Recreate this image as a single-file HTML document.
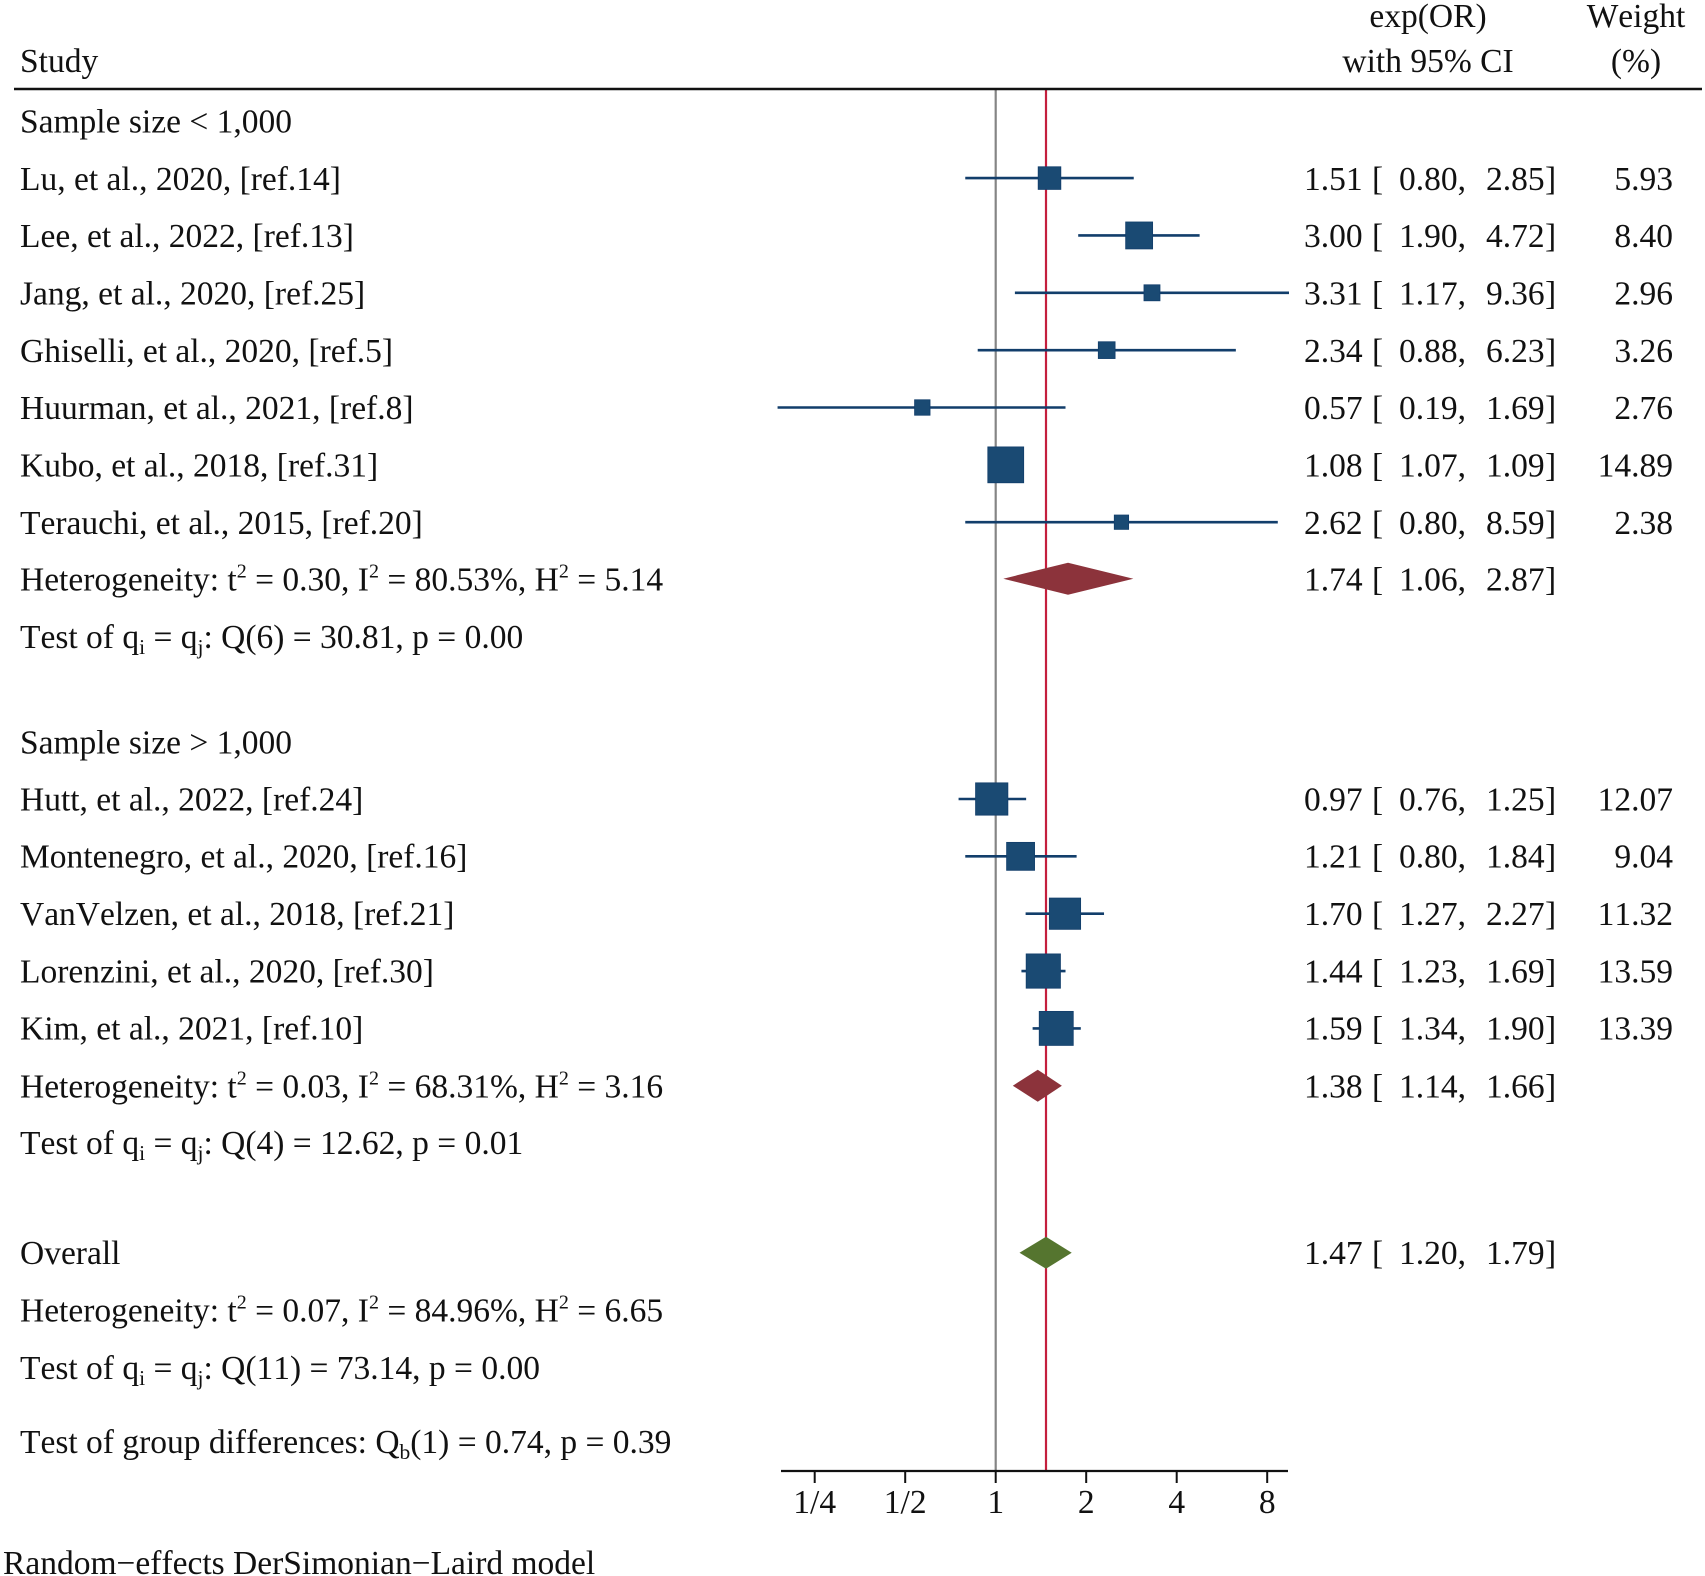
<!DOCTYPE html>
<html lang="en">
<head>
<meta charset="utf-8">
<title>Forest plot</title>
<style>
html,body{margin:0;padding:0;background:#fff;}
svg{display:block;}
text{font-family:"Liberation Serif",serif;font-size:33.5px;fill:#111;font-kerning:none;}
.s{font-size:21.5px;}
.p{font-size:20px;}
</style>
</head>
<body>
<svg id="chart" width="1705" height="1576" viewBox="0 0 1705 1576" xmlns="http://www.w3.org/2000/svg">
<rect width="1705" height="1576" fill="#fff"/>
<g id="plot-lines"></g>
<line x1="14" x2="1702" y1="89" y2="89" stroke="#111" stroke-width="2.6"/>
<text x="20" y="72">Study</text>
<text x="1428" y="27" text-anchor="middle">exp(OR)</text>
<text x="1428" y="72" text-anchor="middle">with 95% CI</text>
<text x="1636" y="27" text-anchor="middle">Weight</text>
<text x="1636" y="72" text-anchor="middle">(%)</text>

<text x="20" y="132.5">Sample size &lt; 1,000</text>
<text x="20" y="590.5">Heterogeneity: t<tspan class="p" dy="-13">2</tspan><tspan dy="13"> = 0.30, I</tspan><tspan class="p" dy="-13">2</tspan><tspan dy="13"> = 80.53%, H</tspan><tspan class="p" dy="-13">2</tspan><tspan dy="13"> = 5.14</tspan></text>
<text x="20" y="648">Test of q<tspan class="s" dy="6">i</tspan><tspan dy="-6"> = q</tspan><tspan class="s" dy="6">j</tspan><tspan dy="-6">: Q(6) = 30.81, p = 0.00</tspan></text>

<text x="20" y="753.5">Sample size &gt; 1,000</text>
<text x="20" y="1097.5">Heterogeneity: t<tspan class="p" dy="-13">2</tspan><tspan dy="13"> = 0.03, I</tspan><tspan class="p" dy="-13">2</tspan><tspan dy="13"> = 68.31%, H</tspan><tspan class="p" dy="-13">2</tspan><tspan dy="13"> = 3.16</tspan></text>
<text x="20" y="1154">Test of q<tspan class="s" dy="6">i</tspan><tspan dy="-6"> = q</tspan><tspan class="s" dy="6">j</tspan><tspan dy="-6">: Q(4) = 12.62, p = 0.01</tspan></text>

<text x="20" y="1264">Overall</text>
<text x="20" y="1321.5">Heterogeneity: t<tspan class="p" dy="-13">2</tspan><tspan dy="13"> = 0.07, I</tspan><tspan class="p" dy="-13">2</tspan><tspan dy="13"> = 84.96%, H</tspan><tspan class="p" dy="-13">2</tspan><tspan dy="13"> = 6.65</tspan></text>
<text x="20" y="1379">Test of q<tspan class="s" dy="6">i</tspan><tspan dy="-6"> = q</tspan><tspan class="s" dy="6">j</tspan><tspan dy="-6">: Q(11) = 73.14, p = 0.00</tspan></text>
<text x="20" y="1453">Test of group differences: Q<tspan class="s" dy="6">b</tspan><tspan dy="-6">(1) = 0.74, p = 0.39</tspan></text>
<text x="3" y="1574">Random−effects DerSimonian−Laird model</text>
<g id="marks"></g>
<g id="axis"></g>
</svg>
<script>
const group1Studies = ["Lu, et al., 2020, [ref.14]", "Lee, et al., 2022, [ref.13]", "Jang, et al., 2020, [ref.25]", "Ghiselli, et al., 2020, [ref.5]", "Huurman, et al., 2021, [ref.8]", "Kubo, et al., 2018, [ref.31]", "Terauchi, et al., 2015, [ref.20]"];
const group1Or = [1.51, 3.00, 3.31, 2.34, 0.57, 1.08, 2.62];
const group1Low = [0.80, 1.90, 1.17, 0.88, 0.19, 1.07, 0.80];
const group1High = [2.85, 4.72, 9.36, 6.23, 1.69, 1.09, 8.59];
const group1Weight = [5.93, 8.40, 2.96, 3.26, 2.76, 14.89, 2.38];

const group2Studies = ["Hutt, et al., 2022, [ref.24]", "Montenegro, et al., 2020, [ref.16]", "VanVelzen, et al., 2018, [ref.21]", "Lorenzini, et al., 2020, [ref.30]", "Kim, et al., 2021, [ref.10]"];
const group2Or = [0.97, 1.21, 1.70, 1.44, 1.59];
const group2Low = [0.76, 0.80, 1.27, 1.23, 1.34];
const group2High = [1.25, 1.84, 2.27, 1.69, 1.90];
const group2Weight = [12.07, 9.04, 11.32, 13.59, 13.39];

const pooledOr = [1.74, 1.38];
const pooledLow = [1.06, 1.14];
const pooledHigh = [2.87, 1.66];

const overallOr = 1.47;
const overallLow = 1.20;
const overallHigh = 1.79;

const tickValues = [0.25, 0.5, 1, 2, 4, 8];
const tickLabels = ["1/4", "1/2", "1", "2", "4", "8"];

const NS = "http://www.w3.org/2000/svg";
const xOf = v => 995.7 + Math.log2(v) * 90.5;
const rowStep = 57.35;
const axisY = 1471;
const marks = document.getElementById("marks");
const linesG = document.getElementById("plot-lines");
const axisG = document.getElementById("axis");

function make(parent, tag, attrs, content) {
  const el = document.createElementNS(NS, tag);
  for (const k in attrs) el.setAttribute(k, attrs[k]);
  if (content !== undefined) el.textContent = content;
  parent.appendChild(el);
  return el;
}

function addInterval(y, low, high, point, prefix) {
  let el = make(marks, "text", {x: 1304, y: y}, point.toFixed(2));
  
  
  el = make(marks, "text", {x: 1372, y: y}, "[");
  
  
  el = make(marks, "text", {x: 1399, y: y}, low.toFixed(2) + ",");
  
  
  el = make(marks, "text", {x: 1486, y: y}, high.toFixed(2));
  
  
  el = make(marks, "text", {x: 1545, y: y}, "]");
  
  
}

function addStudyRows(labels, ors, lows, highs, weights, firstBaseline, markOffset, prefix) {
  labels.forEach((label, i) => {
    const base = firstBaseline + i * rowStep;
    const cy = base + markOffset;
    const name = prefix + '-study-' + (i + 1);
    let el = make(marks, "text", {x: 20, y: base}, label);
    
    
    el = make(marks, "line", {x1: xOf(lows[i]), x2: xOf(highs[i]), y1: cy, y2: cy, stroke: "#123e6b", "stroke-width": 2.6, "stroke-linecap": "square"});
    
    
    const side = 9.3 * Math.sqrt(weights[i]);
    el = make(marks, "rect", {x: xOf(ors[i]) - side / 2, y: cy - side / 2, width: side, height: side, fill: "#1a4a73", stroke: "#123e6b", "stroke-width": 0.8});
    
    
    addInterval(base, lows[i], highs[i], ors[i], name);
    el = make(marks, "text", {x: 1673, y: base, "text-anchor": "end"}, weights[i].toFixed(2));
    
    
  });
}

function diamondPoints(or, low, high, cy) {
  const h = 16;
  return [[xOf(low), cy], [xOf(or), cy - h], [xOf(high), cy], [xOf(or), cy + h]].map(p => p.join(",")).join(" ");
}

/* reference lines */
let vLine = make(linesG, "line", {x1: xOf(1), x2: xOf(1), y1: 89, y2: axisY, stroke: "#858585", "stroke-width": 2.2});


vLine = make(linesG, "line", {x1: xOf(overallOr), x2: xOf(overallOr), y1: 89, y2: axisY, stroke: "#c41f3d", "stroke-width": 2.2});



/* rows */
addStudyRows(group1Studies, group1Or, group1Low, group1High, group1Weight, 189.8, -11.7, 'group-1');
addStudyRows(group2Studies, group2Or, group2Low, group2High, group2Weight, 810.3, -11.3, 'group-2');

const pooledBaselines = [590.5, 1097.5];
pooledOr.forEach((or, i) => {
  const base = pooledBaselines[i];
  const d = make(marks, "polygon", {points: diamondPoints(or, pooledLow[i], pooledHigh[i], base - 11.8), fill: "#8c333b"});
  
  
  addInterval(base, pooledLow[i], pooledHigh[i], or, 'subgroup-' + (i + 1));
});

const overallDiamond = make(marks, "polygon", {points: diamondPoints(overallOr, overallLow, overallHigh, 1264 - 11.3), fill: "#55752f"});


addInterval(1264, overallLow, overallHigh, overallOr, 'overall');

/* axis */
const axisLine = make(axisG, "line", {x1: 781, x2: 1288, y1: axisY, y2: axisY, stroke: "#111", "stroke-width": 2.2});


tickValues.forEach((v, i) => {
  let el = make(axisG, "line", {x1: xOf(v), x2: xOf(v), y1: axisY, y2: axisY + 12, stroke: "#111", "stroke-width": 2});
  
  
  el = make(axisG, "text", {x: xOf(v), y: 1513, "text-anchor": "middle"}, tickLabels[i]);
  
  
});
</script>
</body>
</html>
